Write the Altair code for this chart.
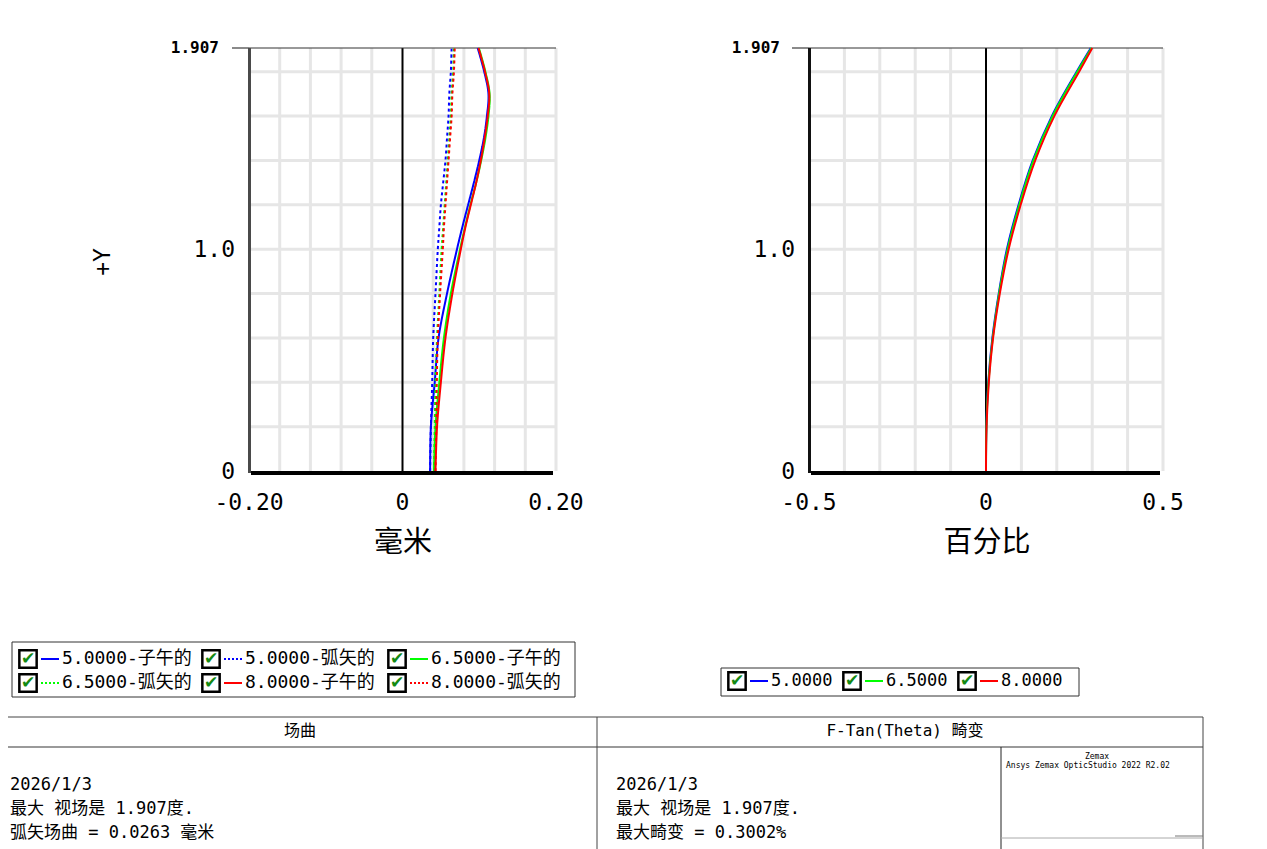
import altair as alt
import pandas as pd

# ---------------- data ----------------
FIELDS = ["5.0000", "6.5000", "8.0000"]
COLORS = ["#0000ff", "#00ff00", "#ff0000"]

# field curvature (mm) vs +Y (deg)
FC_Y = [0.0, 0.2, 0.4, 0.6, 0.8, 1.0, 1.1, 1.2, 1.3, 1.4, 1.5, 1.6, 1.7, 1.8, 1.907]
TAN_50 = [0.036, 0.037, 0.042, 0.047, 0.058, 0.071, 0.078, 0.0855, 0.093, 0.100, 0.106, 0.110, 0.112, 0.1065, 0.098]
TAN_65 = [0.041, 0.043, 0.048, 0.054, 0.063, 0.075, 0.0815, 0.0885, 0.096, 0.1025, 0.108, 0.112, 0.1135, 0.108, 0.0995]
TAN_80 = [0.043, 0.045, 0.050, 0.056, 0.065, 0.076, 0.082, 0.089, 0.096, 0.102, 0.107, 0.111, 0.113, 0.1075, 0.099]
SAG_50 = [0.036, 0.037, 0.0387, 0.040, 0.043, 0.046, 0.048, 0.050, 0.053, 0.056, 0.058, 0.060, 0.061, 0.063, 0.064]
SAG_65 = [0.041, 0.042, 0.043, 0.045, 0.048, 0.051, 0.053, 0.055, 0.057, 0.059, 0.061, 0.063, 0.064, 0.066, 0.067]
SAG_80 = [0.043, 0.044, 0.0447, 0.046, 0.049, 0.0525, 0.054, 0.056, 0.058, 0.060, 0.062, 0.064, 0.065, 0.067, 0.068]

# F-Tan(Theta) distortion (%) vs +Y
DI_Y = [0.0, 0.2, 0.4, 0.6, 0.8, 1.0, 1.2, 1.4, 1.6, 1.8, 1.907]
DIST_50 = [0.0, 0.001, 0.0065, 0.018, 0.036, 0.059, 0.092, 0.132, 0.186, 0.256, 0.296]
DIST_65 = [0.0, 0.0012, 0.007, 0.019, 0.037, 0.061, 0.094, 0.134, 0.188, 0.258, 0.298]
DIST_80 = [0.0, 0.0015, 0.008, 0.020, 0.039, 0.064, 0.098, 0.139, 0.193, 0.263, 0.3002]

# axis ticks / labels
FC_XTICKS = [-0.2, 0.0, 0.2]
FC_XLABELS = ["-0.20", "0", "0.20"]
DI_XTICKS = [-0.5, 0.0, 0.5]
DI_XLABELS = ["-0.5", "0", "0.5"]
Y_TICKS = [1.0, 0.0]
Y_LABELS = ["1.0", "0"]
Y_MAX = 1.907
Y_MAX_LABEL = "1.907"
FC_XGRID = [-0.16, -0.12, -0.08, -0.04, 0.04, 0.08, 0.12, 0.16, 0.2]
DI_XGRID = [-0.4, -0.3, -0.2, -0.1, 0.1, 0.2, 0.3, 0.4, 0.5]
YGRID = [0.2, 0.4, 0.6, 0.8, 1.0, 1.2, 1.4, 1.6, 1.8]

LEG_LEFT = ["5.0000-子午的", "5.0000-弧矢的", "6.5000-子午的",
            "6.5000-弧矢的", "8.0000-子午的", "8.0000-弧矢的"]
LEG_LEFT_COLOR = ["#0000ff", "#0000ff", "#00ff00", "#00ff00", "#ff0000", "#ff0000"]
LEG_LEFT_KIND = ["solid", "dot", "solid", "dot", "solid", "dot"]
LEG_RIGHT = ["5.0000", "6.5000", "8.0000"]

TITLE_LEFT = "场曲"
TITLE_RIGHT = "F-Tan(Theta) 畸变"
TEXT_LEFT = ["2026/1/3", "最大 视场是 1.907度.", "弧矢场曲 = 0.0263 毫米"]
TEXT_RIGHT = ["2026/1/3", "最大 视场是 1.907度.", "最大畸变 = 0.3002%"]
ZEMAX_1 = "Zemax"
ZEMAX_2 = "Ansys Zemax OpticStudio 2022 R2.02"

# ---------------- layout ----------------
W, H = 1251, 841
MONO = "DejaVu Sans Mono, Noto Sans CJK SC"
CJK = "Noto Sans CJK SC"


def P(v):
    """page pixel -> chart pixel (page margin 8px)"""
    return v - 8


TOP, BOT = P(48), P(471)
LX0, LX1 = P(249), P(556)
RX0, RX1 = P(809), P(1163)


def scale(domain, rng):
    return alt.Scale(domain=domain, range=rng, nice=False, zero=False)


YS = scale([0, Y_MAX], [BOT, TOP])
XL = scale([-0.2, 0.2], [LX0, LX1])
XR = scale([-0.5, 0.5], [RX0, RX1])

# long tables
fc_rows = []
for f, t, s in zip(FIELDS, [TAN_50, TAN_65, TAN_80], [SAG_50, SAG_65, SAG_80]):
    for kind, arr in (("弧矢", s), ("子午", t)):
        for y, x in zip(FC_Y, arr):
            fc_rows.append({"field": f, "kind": kind, "series": f + kind, "x": x, "y": y})
fc_df = pd.DataFrame(fc_rows)

di_rows = []
for f, arr in zip(FIELDS, [DIST_50, DIST_65, DIST_80]):
    for y, x in zip(DI_Y, arr):
        di_rows.append({"field": f, "x": x, "y": y})
di_df = pd.DataFrame(di_rows)

layers = []


def vrules(values, xs, color, width):
    return alt.Chart(pd.DataFrame({"v": values})).mark_rule(color=color, strokeWidth=width).encode(
        x=alt.X("v:Q", scale=xs, axis=None), y=alt.value(TOP), y2=alt.value(BOT))


def hrules(values, x0, x1, color, width):
    return alt.Chart(pd.DataFrame({"v": values})).mark_rule(color=color, strokeWidth=width).encode(
        y=alt.Y("v:Q", scale=YS, axis=None), x=alt.value(x0), x2=alt.value(x1))


def prule(x0, y0, x1, y1, color, width):
    return alt.Chart(pd.DataFrame({"a": [0]})).mark_rule(color=color, strokeWidth=width).encode(
        x=alt.value(x0), x2=alt.value(x1), y=alt.value(y0), y2=alt.value(y1))


def ptext(lines, x, y0, dy, size, font, align="left", color="black", angle=0):
    df = pd.DataFrame({"t": lines, "py": [y0 + i * dy for i in range(len(lines))]})
    return alt.Chart(df).mark_text(align=align, baseline="middle", fontSize=size, font=font,
                                   color=color, angle=angle).encode(
        x=alt.value(x), y=alt.Y("py:Q", scale=None, axis=None), text="t:N")


# ---- panel frames / grids ----
for xs, x0, x1, xgrid, spine in ((XL, LX0, LX1, FC_XGRID, "#4a4a4a"), (XR, RX0, RX1, DI_XGRID, "#111111")):
    layers.append(vrules(xgrid, xs, "#e6e6e6", 3))
    layers.append(hrules(YGRID, x0, x1, "#e6e6e6", 3))
    layers.append(vrules([0.0], xs, "#000000", 2))
    layers.append(hrules([Y_MAX], x0, x1, "#333333", 1))
    layers.append(prule(x0 - 17, TOP, x0, TOP, "#8a8a8a", 2))
    layers.append(prule(x0 + 0.5, TOP, x0 + 0.5, BOT + 2, spine, 3))
    layers.append(prule(x0 + 2, BOT + 2, x1 - 3, BOT + 2, "#000000", 4))

# ---- data lines ----
layers.append(
    alt.Chart(fc_df).mark_line(strokeWidth=2, interpolate="catmull-rom").encode(
        x=alt.X("x:Q", scale=XL, axis=None),
        y=alt.Y("y:Q", scale=YS, axis=None),
        color=alt.Color("field:N", scale=alt.Scale(domain=FIELDS, range=COLORS), legend=None),
        strokeDash=alt.StrokeDash("kind:N", scale=alt.Scale(domain=["子午", "弧矢"], range=[[1, 0], [3, 3]]),
                                  legend=None),
        detail="series:N",
        order=alt.Order("y:Q"),
    )
)
layers.append(
    alt.Chart(di_df).mark_line(strokeWidth=2, interpolate="catmull-rom").encode(
        x=alt.X("x:Q", scale=XR, axis=None),
        y=alt.Y("y:Q", scale=YS, axis=None),
        color=alt.Color("field:N", scale=alt.Scale(domain=FIELDS, range=COLORS), legend=None),
        order=alt.Order("y:Q"),
    )
)

# ---- tick labels ----
for xs, ticks, labels, ylab_x, ymax_x in ((XL, FC_XTICKS, FC_XLABELS, P(235), P(219)),
                                          (XR, DI_XTICKS, DI_XLABELS, P(795), P(780))):
    layers.append(
        alt.Chart(pd.DataFrame({"v": ticks, "t": labels})).mark_text(
            fontSize=23, font=MONO, align="center", baseline="middle").encode(
            x=alt.X("v:Q", scale=xs, axis=None), y=alt.value(P(503)), text="t:N"))
    layers.append(
        alt.Chart(pd.DataFrame({"v": Y_TICKS, "t": Y_LABELS})).mark_text(
            fontSize=23, font=MONO, align="right", baseline="middle", dy=1).encode(
            y=alt.Y("v:Q", scale=YS, axis=None), x=alt.value(ylab_x), text="t:N"))
    layers.append(
        alt.Chart(pd.DataFrame({"v": [Y_MAX], "t": [Y_MAX_LABEL]})).mark_text(
            fontSize=16, font=MONO, fontWeight="bold", align="right", baseline="middle").encode(
            y=alt.Y("v:Q", scale=YS, axis=None), x=alt.value(ymax_x), text="t:N"))

# axis titles
layers.append(ptext(["毫米"], P(403), P(543), 0, 29, CJK, align="center"))
layers.append(ptext(["百分比"], P(987), P(543), 0, 29, CJK, align="center"))
layers.append(ptext(["+Y"], P(103), P(262), 0, 23, MONO, align="center", angle=270))


# ---- legends ----
def legend_layers(labels, colors, kinds, col_starts, row_ys, box, fsize):
    rows = []
    for i, (lab, c, k) in enumerate(zip(labels, colors, kinds)):
        x0 = col_starts[i % len(col_starts)]
        y = row_ys[i // len(col_starts)]
        rows.append({"t": lab, "c": c, "k": k, "bx": x0 + 9, "lx0": x0 + 22, "lx1": x0 + 40,
                     "tx": x0 + 43, "y": y})
    df = pd.DataFrame(rows)
    out = []
    bx0, by0, bx1, by1 = box
    out.append(alt.Chart(pd.DataFrame({"a": [0]})).mark_rect(fill="white", stroke="#333333",
                                                            strokeWidth=1).encode(
        x=alt.value(bx0), x2=alt.value(bx1), y=alt.value(by0), y2=alt.value(by1)))
    out.append(alt.Chart(df).mark_point(shape="square", size=300, filled=True, fill="white",
                                        stroke="black", strokeWidth=2.5, opacity=1).encode(
        x=alt.X("bx:Q", scale=None, axis=None), y=alt.Y("y:Q", scale=None, axis=None)))
    out.append(alt.Chart(df).mark_text(text="✔", fontSize=17, font="DejaVu Sans", color="#138a13",
                                       align="center", baseline="middle").encode(
        x=alt.X("bx:Q", scale=None, axis=None), y=alt.Y("y:Q", scale=None, axis=None)))
    for kind, dash in (("solid", [1, 0]), ("dot", [2, 2])):
        sub = df[df["k"] == kind]
        if len(sub):
            out.append(alt.Chart(sub).mark_rule(strokeWidth=2, strokeDash=dash).encode(
                x=alt.X("lx0:Q", scale=None, axis=None), x2="lx1:Q",
                y=alt.Y("y:Q", scale=None, axis=None),
                color=alt.Color("c:N", scale=None)))
    out.append(alt.Chart(df).mark_text(fontSize=fsize, font=MONO, align="left", baseline="middle").encode(
        x=alt.X("tx:Q", scale=None, axis=None), y=alt.Y("y:Q", scale=None, axis=None), text="t:N"))
    return out


layers += legend_layers(LEG_LEFT, LEG_LEFT_COLOR, LEG_LEFT_KIND,
                        [P(19), P(202), P(388)], [P(659), P(683)],
                        (P(12), P(642), P(575), P(697)), 18)
layers += legend_layers(LEG_RIGHT, COLORS, ["solid"] * 3,
                        [P(728), P(843), P(958)], [P(681)],
                        (P(721), P(668), P(1079), P(696)), 17)

# ---- bottom info table ----
layers.append(prule(0, P(717), P(1203), P(717), "#444444", 1))
layers.append(prule(0, P(747), P(1203), P(747), "#9a9a9a", 2))
layers.append(prule(P(597), P(717), P(597), H, "#444444", 1))
layers.append(prule(P(1203), P(717), P(1203), H, "#444444", 1))
layers.append(prule(P(1001), P(747), P(1001), H, "#222222", 1))
layers.append(prule(P(1001), P(838), P(1203), P(838), "#aaaaaa", 1))
layers.append(prule(P(1175), P(836), P(1203), P(836), "#777777", 1))

layers.append(ptext([TITLE_LEFT], P(300), P(731), 0, 16, MONO, align="center"))
layers.append(ptext([TITLE_RIGHT], P(905), P(731), 0, 16, MONO, align="center"))
layers.append(ptext(TEXT_LEFT, P(10), P(785), 24, 17, MONO))
layers.append(ptext(TEXT_RIGHT, P(616), P(785), 24, 17, MONO))
layers.append(ptext([ZEMAX_1], P(1097), P(757), 0, 8, MONO, align="center"))
layers.append(ptext([ZEMAX_2], P(1006), P(766), 0, 8, MONO))

chart = alt.layer(*layers).resolve_scale(
    x="independent", y="independent", color="independent", strokeDash="independent"
).properties(
    width=W, height=H, padding=0, autosize=alt.AutoSizeParams(type="none"),
    background="white"
).configure_view(stroke=None)

chart.save("out.html", embed_options={"renderer": "svg", "actions": False})
